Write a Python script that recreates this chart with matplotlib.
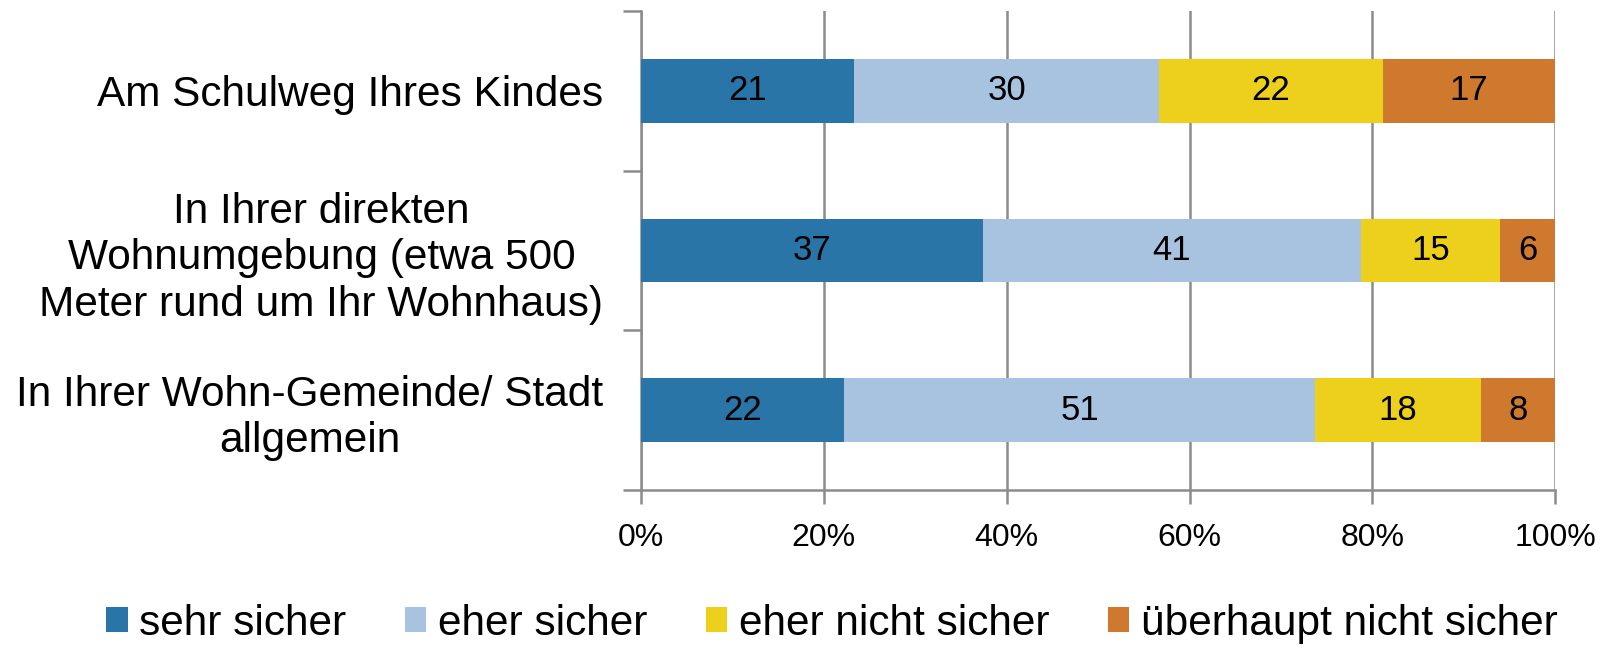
import numpy as np
import matplotlib
matplotlib.use("Agg")
import matplotlib.pyplot as plt

plt.rcParams['font.family'] = ['Liberation Sans', 'DejaVu Sans']

categories = ['Am Schulweg Ihres Kindes',
              'In Ihrer direkten\nWohnumgebung (etwa 500\nMeter rund um Ihr Wohnhaus)',
              'In Ihrer Wohn-Gemeinde/ Stadt\nallgemein']
series = ['sehr sicher', 'eher sicher', 'eher nicht sicher', 'überhaupt nicht sicher']
sehr_sicher = [21, 37, 22]
eher_sicher = [30, 41, 51]
eher_nicht = [22, 15, 18]
ueberhaupt_nicht = [17, 6, 8]
colors = ['#2a75a7', '#a7c3df', '#ecd01c', '#cf792f']

vals = np.array([sehr_sicher, eher_sicher, eher_nicht, ueberhaupt_nicht], dtype=float)
shares = vals / vals.sum(axis=0)

fig = plt.figure(figsize=(16, 6.48), dpi=100)
ax = fig.add_axes([0.4006, 0.244, 0.5714, 0.739])

y = np.arange(len(categories))
left = np.zeros(len(categories))
for i, name in enumerate(series):
    bars = ax.barh(y, shares[i], left=left, height=0.4, color=colors[i],
                   label=name, zorder=3)
    for j, b in enumerate(bars):
        ax.text(left[j] + shares[i][j] / 2, y[j], f"{int(vals[i][j])}",
                ha='center', va='center', fontsize=25, color='black', zorder=4)
    left += shares[i]

ax.set_xlim(0, 1)
ax.set_ylim(2.5, -0.5)
ax.set_xticks(np.linspace(0, 1, 6))
ax.set_xticklabels([f"{int(v)}%" for v in np.linspace(0, 100, 6)], fontsize=23)
ax.xaxis.grid(True, color='#8c8c8c', linewidth=1.8, zorder=0)

# Kategorien als Minor-Ticks, Trennstriche als Major-Ticks
ax.set_yticks([-0.5, 0.5, 1.5, 2.5])
ax.set_yticklabels([])
ax.set_yticks(y, minor=True)
ax.set_yticklabels(categories, minor=True, fontsize=30.5, ha='right',
                   multialignment='center', linespacing=1.22)
ax.tick_params(axis='y', which='minor', length=0, pad=27)
ax.tick_params(axis='y', which='major', length=13, width=1.8, color='#8c8c8c')
ax.tick_params(axis='x', length=10, width=1.8, color='#8c8c8c', pad=14)

for s in ['top', 'right']:
    ax.spines[s].set_visible(False)
for s in ['left', 'bottom']:
    ax.spines[s].set_color('#8c8c8c')
    ax.spines[s].set_linewidth(1.8)

handles, labels = ax.get_legend_handles_labels()
fig.legend(handles, labels, loc='lower center', bbox_to_anchor=(0.52, -0.052),
           ncol=4, frameon=False, fontsize=30.5, handlelength=0.5, handleheight=0.5,
           handletextpad=0.28, columnspacing=1.38)

fig.savefig('out.png', dpi=100)
